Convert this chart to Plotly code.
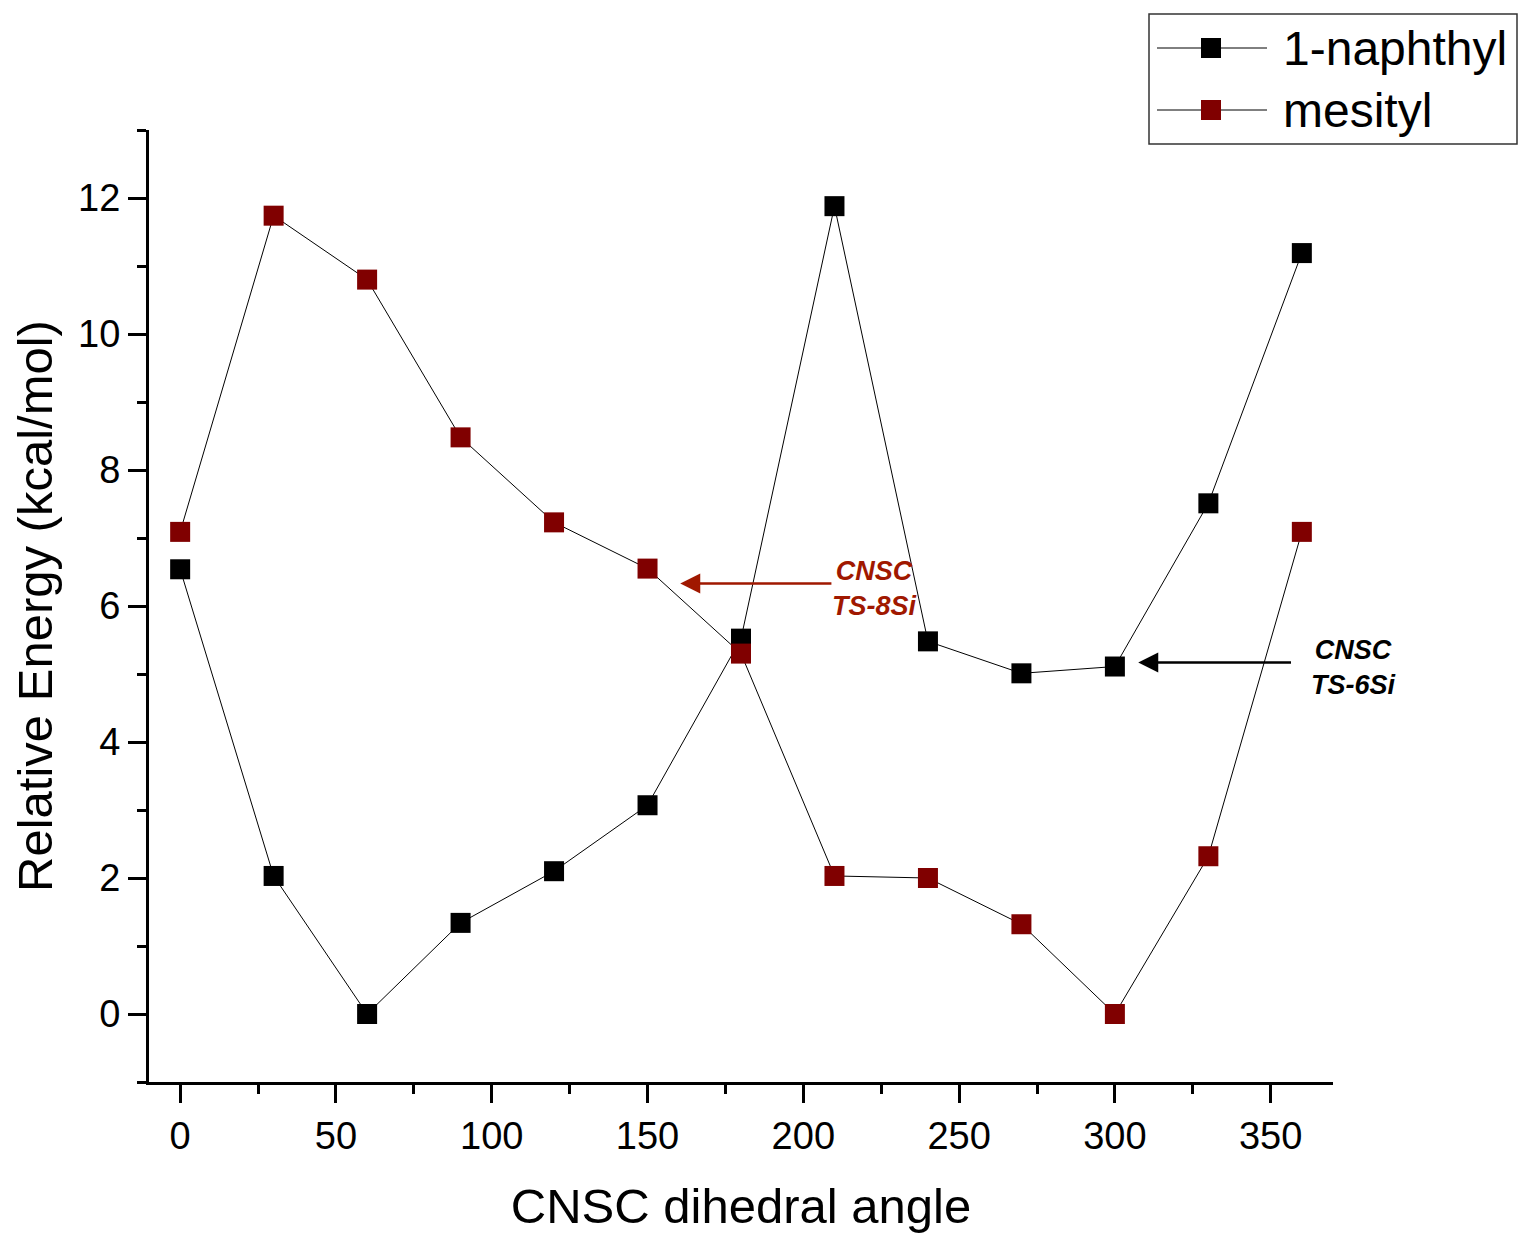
import plotly.graph_objects as go

angles = [0, 30, 60, 90, 120, 150, 180, 210, 240, 270, 300, 330, 360]
naphthyl = [6.54, 2.03, 0.0, 1.34, 2.10, 3.07, 5.52, 11.88, 5.48, 5.01, 5.11, 7.51, 11.19]
mesityl = [7.09, 11.74, 10.80, 8.48, 7.23, 6.55, 5.30, 2.03, 2.00, 1.32, 0.0, 2.32, 7.09]
series_names = ["1-naphthyl", "mesityl"]
series_colors = ["#000000", "#800000"]

FONT = "Liberation Sans, Arial, sans-serif"

fig = go.Figure()
for name, vals, col in zip(series_names, [naphthyl, mesityl], series_colors):
    fig.add_trace(go.Scatter(
        x=angles, y=vals, name=name, mode="lines+markers",
        line=dict(color="#000000", width=1),
        marker=dict(symbol="square", size=20, color=col, line=dict(width=0)),
        cliponaxis=False, showlegend=False,
    ))

# Annotations: arrows + labels
red = "#a01800"
fig.add_annotation(x=160.5, y=6.33, ax=209.5, ay=6.33, xref="x", yref="y", axref="x", ayref="y",
                   text="", showarrow=True, arrowhead=2, arrowsize=1.6, arrowwidth=2.5, arrowcolor=red)
fig.add_annotation(x=222.9, y=6.26, xref="x", yref="y", showarrow=False,
                   text="<b><i>CNSC<br>TS-8Si</i></b>", font=dict(family=FONT, size=27, color=red))
fig.add_annotation(x=307.5, y=5.17, ax=357, ay=5.17, xref="x", yref="y", axref="x", ayref="y",
                   text="", showarrow=True, arrowhead=2, arrowsize=1.6, arrowwidth=2.5, arrowcolor="#000000")
fig.add_annotation(x=(1353 - 149) / 1184, y=5.10, xref="paper", yref="y", xanchor="center",
                   showarrow=False,
                   text="<b><i>CNSC<br>TS-6Si</i></b>", font=dict(family=FONT, size=27, color="#000000"))

# Legend box drawn in paper coordinates (Origin style: long sample line with centred marker)
def px_x(p):
    return (p - 149) / 1184

def px_y(p):
    return (1082 - p) / 952

fig.add_shape(type="rect", xref="paper", yref="paper",
              x0=px_x(1149), x1=px_x(1517), y0=px_y(144), y1=px_y(14),
              line=dict(color="#333333", width=1.5), fillcolor="white", layer="above")
for i, (name, col) in enumerate(zip(series_names, series_colors)):
    cy = 48 + 62 * i
    fig.add_shape(type="line", xref="paper", yref="paper",
                  x0=px_x(1157), x1=px_x(1267), y0=px_y(cy), y1=px_y(cy),
                  line=dict(color="#000000", width=1), layer="above")
    fig.add_shape(type="rect", xref="paper", yref="paper",
                  x0=px_x(1201), x1=px_x(1221), y0=px_y(cy + 10), y1=px_y(cy - 10),
                  line=dict(width=0), fillcolor=col, layer="above")
    fig.add_annotation(x=px_x(1281), y=px_y(cy), xref="paper", yref="paper",
                       xanchor="left", yanchor="middle", showarrow=False, text=name,
                       font=dict(family=FONT, size=48, color="#000000"))

axis_common = dict(
    showline=True, linecolor="#000000", linewidth=3, mirror=False,
    ticks="outside", ticklen=18, tickwidth=3, tickcolor="#000000",
    showgrid=False, zeroline=False,
    tickfont=dict(family=FONT, size=38, color="#000000"),
)

fig.update_xaxes(
    range=[-10, 370], dtick=50, tick0=0,
    minor=dict(ticks="outside", ticklen=9, tickwidth=3, tickcolor="#000000", dtick=25, tick0=0, showgrid=False),
    title=dict(text="CNSC dihedral angle", font=dict(family=FONT, size=49, color="#000000"), standoff=34),
    **axis_common,
)
fig.update_yaxes(
    range=[-1, 13], dtick=2, tick0=0,
    minor=dict(ticks="outside", ticklen=9, tickwidth=3, tickcolor="#000000", dtick=1, tick0=0, showgrid=False),
    title=dict(text="Relative Energy (kcal/mol)", font=dict(family=FONT, size=49, color="#000000"), standoff=10),
    **axis_common,
)

fig.update_layout(
    width=1518, height=1234,
    margin=dict(l=149, r=185, t=130, b=152, autoexpand=False),
    paper_bgcolor="white", plot_bgcolor="white",
    font=dict(family=FONT, color="#000000"),
    showlegend=False,
)

fig.write_html("out.html")
